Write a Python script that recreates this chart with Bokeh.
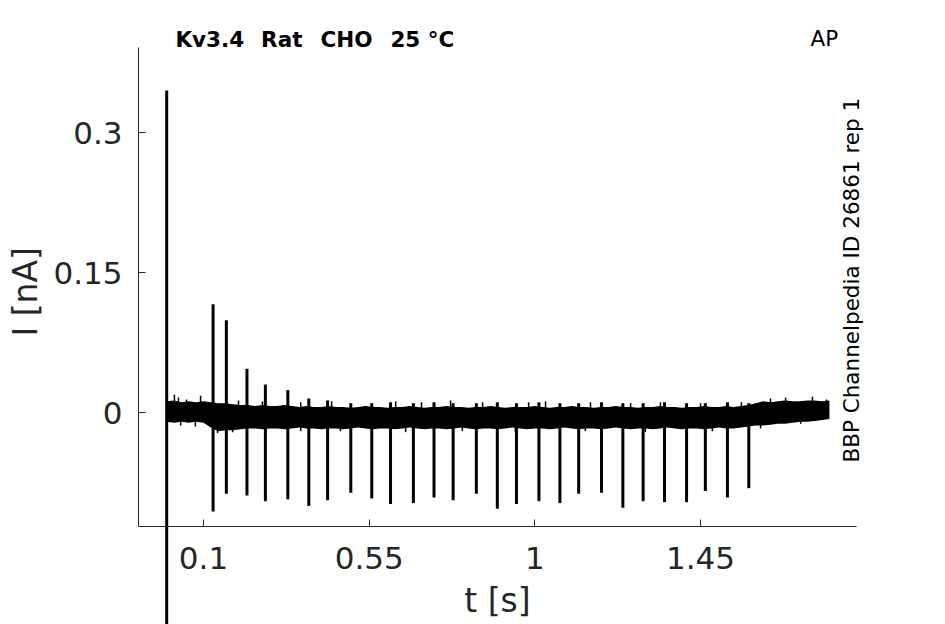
import numpy as np
from bokeh.plotting import figure
from bokeh.models import Range1d, FixedTicker, Label, Title
from bokeh.embed import file_html
from bokeh.resources import INLINE

# ---------------- data ----------------
# noise band of the recorded current: envelope sampled every 0.02 s (t in s, I in nA)
ENV_T = np.linspace(0.0, 1.8, 91)
ENV_UP = [
    0.012, 0.013, 0.011, 0.012, 0.011, 0.012, 0.011, 0.010, 0.010, 0.009,
    0.008, 0.008, 0.007, 0.008, 0.007, 0.007, 0.008, 0.007, 0.006, 0.007,
    0.006, 0.006, 0.007, 0.006, 0.006, 0.005, 0.006, 0.007, 0.006, 0.006,
    0.005, 0.006, 0.006, 0.007, 0.006, 0.005, 0.006, 0.006, 0.007, 0.006,
    0.006, 0.005, 0.006, 0.006, 0.007, 0.006, 0.005, 0.006, 0.006, 0.006,
    0.007, 0.006, 0.005, 0.006, 0.006, 0.007, 0.006, 0.006, 0.005, 0.006,
    0.006, 0.007, 0.006, 0.006, 0.005, 0.006, 0.006, 0.007, 0.006, 0.006,
    0.005, 0.006, 0.006, 0.007, 0.006, 0.006, 0.007, 0.006, 0.007, 0.008,
    0.010, 0.012, 0.011, 0.012, 0.013, 0.012, 0.012, 0.013, 0.013, 0.012,
    0.013,
]
ENV_LOW = [
    -0.010, -0.011, -0.010, -0.011, -0.010, -0.011, -0.016, -0.020, -0.019, -0.019,
    -0.018, -0.017, -0.017, -0.018, -0.017, -0.017, -0.018, -0.017, -0.016, -0.017,
    -0.017, -0.018, -0.017, -0.017, -0.018, -0.017, -0.016, -0.017, -0.018, -0.017,
    -0.017, -0.018, -0.017, -0.016, -0.017, -0.018, -0.017, -0.017, -0.018, -0.017,
    -0.016, -0.017, -0.018, -0.017, -0.017, -0.018, -0.017, -0.016, -0.017, -0.018,
    -0.017, -0.017, -0.018, -0.017, -0.016, -0.017, -0.018, -0.017, -0.017, -0.018,
    -0.017, -0.016, -0.017, -0.018, -0.017, -0.017, -0.018, -0.017, -0.016, -0.017,
    -0.018, -0.017, -0.017, -0.018, -0.017, -0.016, -0.017, -0.017, -0.016, -0.015,
    -0.014, -0.014, -0.013, -0.012, -0.012, -0.011, -0.010, -0.010, -0.009, -0.008,
    -0.007,
]

# isolated noise excursions poking out of the band (t in s, I in nA)
HAIR_UP_T = [0.021, 0.032, 0.054, 0.092, 0.195, 0.260, 0.364, 0.448, 0.622, 0.692,
             0.771, 0.858, 0.983, 1.029, 1.151, 1.260, 1.341, 1.450, 1.561, 1.640,
             1.681, 1.754, 1.792]
HAIR_UP_I = [0.019, 0.016, 0.014, 0.018, 0.013, 0.012, 0.011, 0.012, 0.012, 0.011,
             0.013, 0.011, 0.011, 0.012, 0.011, 0.010, 0.011, 0.010, 0.011, 0.015,
             0.016, 0.017, 0.014]
HAIR_DN_T = [0.038, 0.078, 0.138, 0.179, 0.364, 0.472, 0.649, 0.803, 0.947, 1.137,
             1.300, 1.482, 1.613, 1.722]
HAIR_DN_I = [-0.014, -0.015, -0.022, -0.021, -0.020, -0.020, -0.021, -0.020, -0.021,
             -0.020, -0.021, -0.020, -0.017, -0.012]

# stimulus transient at t=0 and the AP-evoked spikes (t in s, min / max current in nA)
SPIKE_T = [0.000, 0.126, 0.162, 0.218, 0.268, 0.329, 0.386, 0.437, 0.500, 0.557,
           0.608, 0.670, 0.726, 0.778, 0.841, 0.898, 0.950, 1.011, 1.068, 1.119,
           1.181, 1.239, 1.294, 1.352, 1.412, 1.463, 1.523, 1.581]
SPIKE_MIN = [-0.500, -0.106, -0.087, -0.089, -0.095, -0.093, -0.100, -0.094, -0.086, -0.092,
             -0.098, -0.097, -0.091, -0.094, -0.087, -0.103, -0.098, -0.095, -0.097, -0.087,
             -0.086, -0.102, -0.095, -0.096, -0.096, -0.084, -0.091, -0.081]
SPIKE_MAX = [0.345, 0.116, 0.099, 0.047, 0.030, 0.024, 0.015, 0.013, 0.010, 0.010,
             0.011, 0.010, 0.011, 0.010, 0.010, 0.011, 0.010, 0.011, 0.010, 0.010,
             0.011, 0.010, 0.010, 0.011, 0.010, 0.010, 0.011, 0.010]

X_TICKS = [0.1, 0.55, 1, 1.45]
X_TICK_LABELS = ["0.1", "0.55", "1", "1.45"]
Y_TICKS = [0, 0.15, 0.3]
Y_TICK_LABELS = ["0", "0.15", "0.3"]

X_LIM = (-0.0766, 1.8737)
Y_LIM = (-0.1221, 0.391)

TITLE_PARTS = ["Kv3.4", "Rat", "CHO", "25 \u00b0C"]
TITLE_X = [0.0237, 0.2564, 0.4175, 0.6076]
CORNER = "AP"
SIDE = "BBP Channelpedia ID 26861 rep 1"
X_LABEL = "t [s]"
Y_LABEL = "I [nA]"

# ---------------- figure ----------------
p = figure(width=945, height=624, output_backend="svg", toolbar_location=None,
           x_range=Range1d(-0.0766, 2.1153), y_range=Range1d(-0.2271, 0.4329),
           min_border_left=138, min_border_right=0, min_border_top=8,
           min_border_bottom=0, title=None)
p.outline_line_color = None
p.grid.visible = False
p.background_fill_color = "white"
p.border_fill_color = "white"

p.varea(x=ENV_T, y1=ENV_LOW, y2=ENV_UP, fill_color="black")
p.segment(x0=HAIR_UP_T, y0=[0.0] * len(HAIR_UP_T), x1=HAIR_UP_T, y1=HAIR_UP_I,
          line_color="black", line_width=1.5)
p.segment(x0=HAIR_DN_T, y0=[0.0] * len(HAIR_DN_T), x1=HAIR_DN_T, y1=HAIR_DN_I,
          line_color="black", line_width=1.5)
p.segment(x0=SPIKE_T, y0=SPIKE_MIN, x1=SPIKE_T, y1=SPIKE_MAX,
          line_color="black", line_width=3)

xa = p.xaxis[0]
ya = p.yaxis[0]
xa.fixed_location = Y_LIM[0]
xa.bounds = X_LIM
ya.bounds = Y_LIM
xa.ticker = FixedTicker(ticks=X_TICKS)
ya.ticker = FixedTicker(ticks=Y_TICKS)
xa.major_label_overrides = {t: l for t, l in zip(X_TICKS, X_TICK_LABELS)}
ya.major_label_overrides = {t: l for t, l in zip(Y_TICKS, Y_TICK_LABELS)}
xa.axis_label = X_LABEL

for ax in (xa, ya):
    ax.axis_line_color = "#262626"
    ax.axis_line_width = 1
    ax.major_tick_line_color = "#262626"
    ax.major_tick_in = 7
    ax.major_tick_out = 0
    ax.minor_tick_line_color = None
    ax.major_label_text_font = "DejaVu Sans"
    ax.major_label_text_font_size = "31px"
    ax.major_label_text_color = "#262626"
    ax.axis_label_text_font = "DejaVu Sans"
    ax.axis_label_text_font_size = "33px"
    ax.axis_label_text_font_style = "normal"
    ax.axis_label_text_color = "#262626"

xa.major_label_standoff = 20
xa.axis_label_standoff = 9
ya.major_label_standoff = 16

# y axis title in the left panel, positioned along the drawn part of the axis
p.add_layout(Title(text=Y_LABEL, align="left", vertical_align="top", offset=288,
                   standoff=7, text_font="DejaVu Sans", text_font_size="33px",
                   text_font_style="normal", text_color="#262626"), "left")

for part, xpos in zip(TITLE_PARTS, TITLE_X):
    p.add_layout(Label(x=xpos, y=0.3996, text=part, text_font="DejaVu Sans",
                       text_font_style="bold", text_font_size="21.5px",
                       text_color="black", text_baseline="alphabetic"))
p.add_layout(Label(x=1.7486, y=0.4006, text=CORNER, text_font="DejaVu Sans",
                   text_font_size="21.5px", text_color="black",
                   text_baseline="alphabetic"))
p.add_layout(Label(x=1.861, y=-0.0536, text=SIDE, angle=np.pi / 2,
                   text_font="DejaVu Sans", text_font_size="21.5px",
                   text_color="black", text_baseline="alphabetic"))

open("out.html", "w").write(file_html(p, INLINE))
